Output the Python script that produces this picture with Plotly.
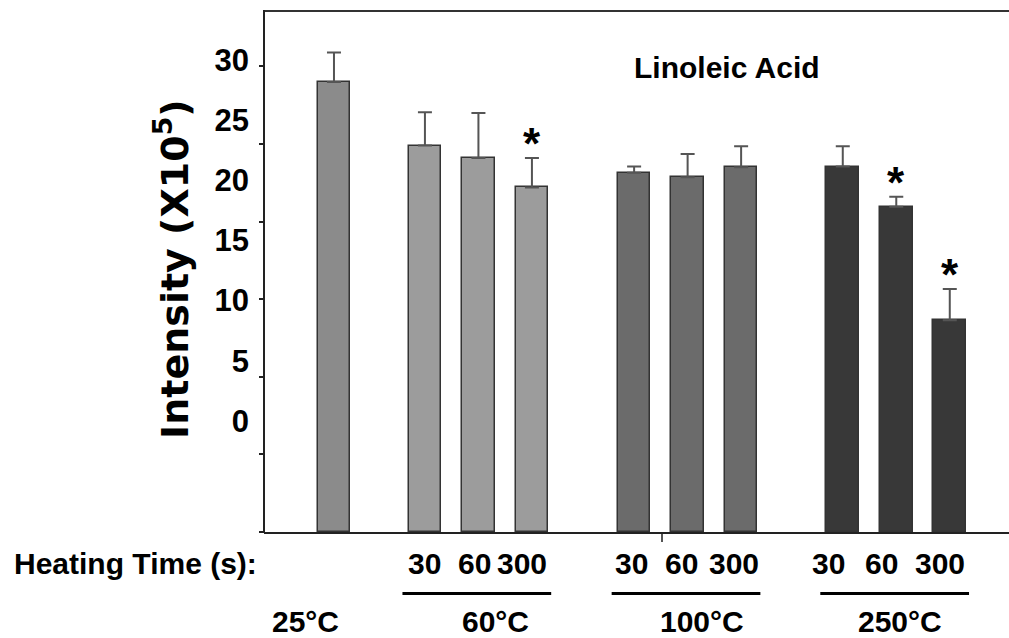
import plotly.graph_objects as go

# ---- data ----
groups = ["25°C", "60°C", "100°C", "250°C"]
heating_times = [[""], ["30", "60", "300"], ["30", "60", "300"], ["30", "60", "300"]]
intensity = [[29.0], [24.9, 24.1, 22.2], [23.15, 22.85, 23.5], [23.55, 20.95, 13.65]]
error_up = [[1.9], [2.15, 2.9, 1.9], [0.4, 1.5, 1.35], [1.3, 0.65, 2.0]]
significant = [[False], [False, False, True], [False, False, False], [False, True, True]]
y_tick_labels = ["0", "5", "10", "15", "20", "25", "30"]
y_tick_values = [0, 5, 10, 15, 20, 25, 30]

# ---- styles / layout ----
group_colors = ["#8b8b8b", "#9c9c9c", "#6b6b6b", "#383838"]
group_start = [0.0, 1.70, 5.61, 9.51]
time_label_shift = [[0], [0, -4, -10], [-3, -6, -7], [-14, -15, -10]]
temp_label_shift = [-28, 17, 14, 4]
FONT = "Liberation Sans, Arial, sans-serif"

xs, ys, es, cols = [], [], [], []
for g, name in enumerate(groups):
    for i, v in enumerate(intensity[g]):
        xs.append(group_start[g] + i)
        ys.append(v)
        es.append(error_up[g][i])
        cols.append(group_colors[g])

fig = go.Figure()
fig.add_trace(go.Bar(
    x=xs, y=ys, width=0.61,
    marker=dict(color=cols, line=dict(color="#333333", width=1.5)),
    error_y=dict(type="data", symmetric=False, array=es, arrayminus=[0] * len(es),
                 color="#555555", thickness=2, width=7),
    showlegend=False, hoverinfo="skip",
))
fig.add_trace(go.Scatter(x=[0], y=[0], yaxis="y2", mode="markers",
                         marker=dict(opacity=0), showlegend=False, hoverinfo="skip"))

annotations = []
shapes = []
idx = 0
for g, name in enumerate(groups):
    n = len(intensity[g])
    for i in range(n):
        x = xs[idx]
        if significant[g][i]:
            annotations.append(dict(x=x, y=ys[idx] + es[idx], xref="x", yref="y",
                                    text="*", showarrow=False, yanchor="bottom",
                                    yshift=-12,
                                    font=dict(family=FONT, size=44, color="black", weight="bold")))
        if heating_times[g][i]:
            annotations.append(dict(x=x, y=-0.0606, xref="x", yref="paper",
                                    text=heating_times[g][i], showarrow=False,
                                    xshift=time_label_shift[g][i], yanchor="middle",
                                    font=dict(family=FONT, size=30, color="black", weight="bold")))
        idx += 1
    center = group_start[g] + (n - 1) / 2
    annotations.append(dict(x=center, y=-0.172, xref="x", yref="paper", text=name,
                            showarrow=False, xshift=temp_label_shift[g], yanchor="middle",
                            font=dict(family=FONT, size=30, color="black", weight="bold")))
    if n > 1:
        shapes.append(dict(type="line", xref="x", yref="paper",
                           x0=group_start[g] - 0.42, x1=group_start[g] + n - 1 + 0.36,
                           y0=-0.118, y1=-0.118, line=dict(color="black", width=3)))

annotations.append(dict(x=-0.3382, y=-0.0606, xref="paper", yref="paper",
                        text="Heating Time (s):", showarrow=False, xanchor="left", yanchor="middle",
                        font=dict(family=FONT, size=30, color="black", weight="bold")))
annotations.append(dict(x=0.6215, y=0.8925, xref="paper", yref="paper",
                        text="Linoleic Acid", showarrow=False, xanchor="center", yanchor="middle",
                        font=dict(family=FONT, size=30, color="black", weight="bold")))
annotations.append(dict(x=-0.1235, y=0.505, xref="paper", yref="paper",
                        text="Intensity (X10<sup>5</sup>)", showarrow=False, textangle=-90,
                        xanchor="center", yanchor="middle",
                        font=dict(family="DejaVu Sans, sans-serif", size=38, color="black", weight="bold")))

# frame: top and left lines (no right edge in the reference)
shapes.append(dict(type="line", xref="paper", yref="paper", x0=-0.0013, x1=1.01, y0=1, y1=1,
                   line=dict(color="#333333", width=2), layer="above"))
shapes.append(dict(type="line", xref="paper", yref="paper", x0=0, x1=0, y0=-0.002, y1=1.002,
                   line=dict(color="#222222", width=2), layer="above"))

fig.update_layout(
    width=1009, height=638,
    margin=dict(l=264, r=0, t=11, b=106),
    paper_bgcolor="white", plot_bgcolor="white",
    bargap=0,
    xaxis=dict(range=[-1.308, 12.617], showline=True, mirror=False, linecolor="#222222",
               linewidth=2, showgrid=False, zeroline=False, tickvals=[6.13],
               ticks="outside", ticklen=8, tickwidth=1.5, tickcolor="#555555",
               showticklabels=False),
    yaxis=dict(range=[0, 33.57], tickvals=y_tick_values, ticks="outside", ticklen=4,
               tickwidth=1.5, tickcolor="#222222", showticklabels=False, showline=False,
               mirror=False, showgrid=False, zeroline=False),
    yaxis2=dict(overlaying="y", side="left", range=[-9.23, 34.07], mirror=False,
                tickvals=y_tick_values, ticktext=y_tick_labels, ticks="",
                showline=False, showgrid=False, zeroline=False, ticklabelstandoff=14,
                tickfont=dict(family=FONT, size=31, color="black", weight="bold")),
    annotations=annotations,
    shapes=shapes,
)

fig.write_html("out.html")
